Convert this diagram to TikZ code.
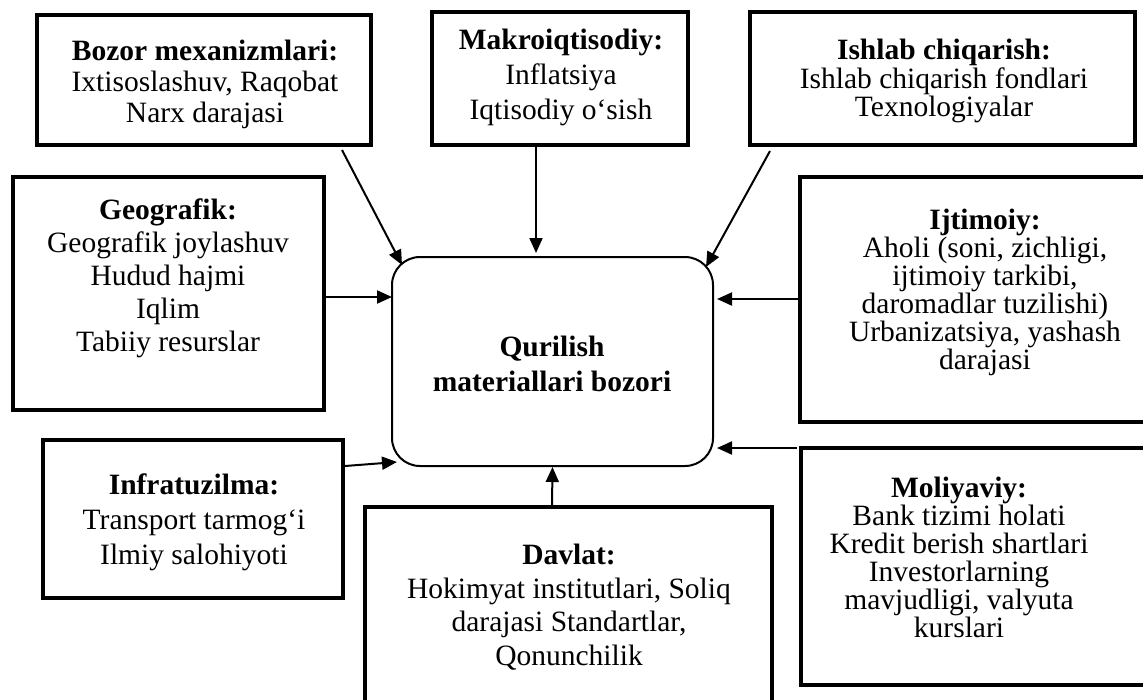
\documentclass[tikz,border=0pt]{standalone}
\usepackage{fontspec}
\setmainfont{Liberation Serif}
\usetikzlibrary{calc,arrows.meta}
\begin{document}
\begin{tikzpicture}[x=1pt,y=-1pt,
  fbox/.style={draw=black,line width=4.5pt,rectangle,outer sep=0pt,inner sep=0pt},
  ftext/.style={align=center,inner sep=0pt,font=\fontsize{29.5}{#1}\selectfont},
  cbox/.style={draw=black,line width=2pt,rectangle,rounded corners=28pt,outer sep=0pt,inner sep=0pt,minimum width=321pt,minimum height=209pt},
  arr/.style={line width=2pt,-{Triangle[length=15pt,width=13pt]}}]
\clip (0,0) rectangle (1143,699);
\fill[white] (0,0) rectangle (1143,699);
% boxes
\node[fbox,minimum width=334pt,minimum height=130pt] (bozor) at (204,80) {};
\node[fbox,minimum width=256pt,minimum height=133pt] (makro) at (560,78.5) {};
\node[fbox,minimum width=385pt,minimum height=133pt] (ishlab) at (942.5,78.5) {};
\node[fbox,minimum width=311pt,minimum height=233pt] (geo) at (168.5,293.5) {};
\node[fbox,minimum width=370pt,minimum height=245pt] (ijt) at (985,299.5) {};
\node[fbox,minimum width=300pt,minimum height=158pt] (infra) at (193,519) {};
\node[fbox,minimum width=407pt,minimum height=233pt] (davlat) at (568.5,623.5) {};
\node[fbox,minimum width=369pt,minimum height=237pt] (mol) at (985.5,566.5) {};
\node[cbox] (c) at (552.5,361.5) {};
% texts
\node[ftext=31] (bozort) at (205,84) {\textbf{Bozor mexanizmlari:}\\Ixtisoslashuv, Raqobat\\Narx darajasi};
\node[ftext=35] (makrot) at (561,77) {\textbf{Makroiqtisodiy:}\\Inflatsiya\\Iqtisodiy o‘sish};
\node[ftext=28.5] (ishlabt) at (944,81) {\textbf{Ishlab chiqarish:}\\Ishlab chiqarish fondlari\\Texnologiyalar};
\node[ftext=33] (geot) at (168,278) {\textbf{Geografik:}\\Geografik joylashuv\\Hudud hajmi\\Iqlim\\Tabiiy resurslar};
\node[ftext=28] (ijtt) at (985,292) {\textbf{Ijtimoiy:}\\Aholi (soni, zichligi,\\ijtimoiy tarkibi,\\daromadlar tuzilishi)\\Urbanizatsiya, yashash\\darajasi};
\node[ftext=35] (infrat) at (194,522) {\textbf{Infratuzilma:}\\Transport tarmog‘i\\Ilmiy salohiyoti};
\node[ftext=33.5] (davlatt) at (569,607) {\textbf{Davlat:}\\Hokimyat institutlari, Soliq\\darajasi Standartlar,\\Qonunchilik};
\node[ftext=28] (molt) at (959,557) {\textbf{Moliyaviy:}\\Bank tizimi holati\\Kredit berish shartlari\\Investorlarning\\mavjudligi, valyuta\\kurslari};
\node[ftext=35] (ct) at (552,364) {\textbf{Qurilish}\\\textbf{materiallari bozori}};
% connectors
\draw[arr] ($(bozor.south east)+(-29,5)$) -- ($(c.north west)+(10,8)$);
\draw[arr] ($(makro.south)+(-24,0)$) -- ($(c.north)+(-16.5,-4)$);
\draw[arr] ($(ishlab.south west)+(20,6)$) -- ($(c.north east)+(-7,10)$);
\draw[arr] ($(geo.north east)+(0,120)$) -- ($(c.north west)+(0,40)$);
\draw[arr] ($(ijt.north west)+(0,122)$) -- ($(c.north east)+(4,42)$);
\draw[arr] ($(infra.north east)+(2,26)$) -- ($(c.south west)+(5,-4)$);
\draw[arr] ($(mol.north west)+(-4,0)$) -- ($(c.south east)+(4,-18)$);
\draw[arr] ($(davlat.north)+(-16.5,0)$) -- ($(c.south)+(0,1)$);
\end{tikzpicture}
\end{document}
